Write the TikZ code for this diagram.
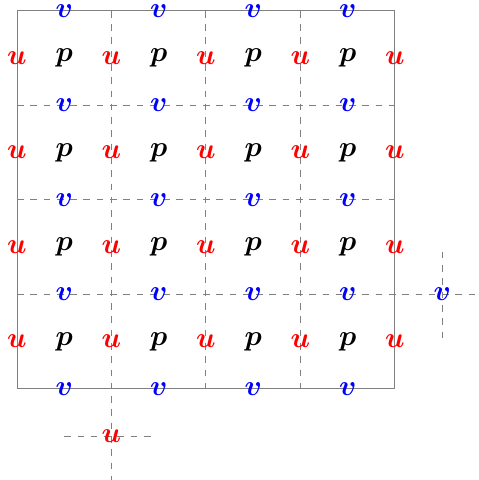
\documentclass[tikz,border=0pt]{standalone}
\usepackage{bm}
\usetikzlibrary{positioning}
\tikzset{
   pres/.style={text=black, font=\LARGE, inner sep=0pt},
   uvel/.style={text=red, font=\LARGE, inner sep=0pt},
   vvel/.style={text=blue, font=\LARGE, inner sep=0pt},
   cell line/.style={draw=gray, line width=0.6pt, dash pattern=on 4pt off 4pt},
   border/.style={draw=gray, line width=0.6pt}
}

\begin{document}
\begin{tikzpicture}

  \useasboundingbox (-0.36,-1.93) rectangle (9.76,8.23);

  % cell boundaries
  \draw[border] (0,0) rectangle (8,8);
  \draw[cell line] (2,8) -- (2,-2.1);
  \draw[cell line] (4,8) -- (4,0);
  \draw[cell line] (6,8) -- (6,0);
  \draw[cell line] (0,6) -- (8,6);
  \draw[cell line] (0,4) -- (8,4);
  \draw[cell line] (0,2) -- (10.1,2);

  \draw[cell line] (1,-1) -- (2.9,-1);
  \draw[cell line] (9,2.9) -- (9,1.05);

  %%%%%%%%%%%

  \node[pres] at (1,7) (p11) {$\bm{p}$};
  \node[pres] at (3,7) (p21) {$\bm{p}$};
  \node[pres] at (5,7) (p31) {$\bm{p}$};
  \node[pres] at (7,7) (p41) {$\bm{p}$};
  \node[pres] at (1,5) (p12) {$\bm{p}$};
  \node[pres] at (3,5) (p22) {$\bm{p}$};
  \node[pres] at (5,5) (p32) {$\bm{p}$};
  \node[pres] at (7,5) (p42) {$\bm{p}$};
  \node[pres] at (1,3) (p13) {$\bm{p}$};
  \node[pres] at (3,3) (p23) {$\bm{p}$};
  \node[pres] at (5,3) (p33) {$\bm{p}$};
  \node[pres] at (7,3) (p43) {$\bm{p}$};
  \node[pres] at (1,1) (p14) {$\bm{p}$};
  \node[pres] at (3,1) (p24) {$\bm{p}$};
  \node[pres] at (5,1) (p34) {$\bm{p}$};
  \node[pres] at (7,1) (p44) {$\bm{p}$};

  %%%%%%%%%%%

  \node[uvel] at (0,7) (u01) {$\bm{u}$};
  \node[uvel] at (2,7) (u11) {$\bm{u}$};
  \node[uvel] at (4,7) (u21) {$\bm{u}$};
  \node[uvel] at (6,7) (u31) {$\bm{u}$};
  \node[uvel] at (8,7) (u41) {$\bm{u}$};
  \node[uvel] at (0,5) (u02) {$\bm{u}$};
  \node[uvel] at (2,5) (u12) {$\bm{u}$};
  \node[uvel] at (4,5) (u22) {$\bm{u}$};
  \node[uvel] at (6,5) (u32) {$\bm{u}$};
  \node[uvel] at (8,5) (u42) {$\bm{u}$};
  \node[uvel] at (0,3) (u03) {$\bm{u}$};
  \node[uvel] at (2,3) (u13) {$\bm{u}$};
  \node[uvel] at (4,3) (u23) {$\bm{u}$};
  \node[uvel] at (6,3) (u33) {$\bm{u}$};
  \node[uvel] at (8,3) (u43) {$\bm{u}$};
  \node[uvel] at (0,1) (u04) {$\bm{u}$};
  \node[uvel] at (2,1) (u14) {$\bm{u}$};
  \node[uvel] at (4,1) (u24) {$\bm{u}$};
  \node[uvel] at (6,1) (u34) {$\bm{u}$};
  \node[uvel] at (8,1) (u44) {$\bm{u}$};
  \node[uvel] at (2,-1) (u ghost) {$\bm{u}$};

  %%%%%%%%%%%

  \node[vvel] at (1,8) (v10) {$\bm{v}$};
  \node[vvel] at (3,8) (v20) {$\bm{v}$};
  \node[vvel] at (5,8) (v30) {$\bm{v}$};
  \node[vvel] at (7,8) (v40) {$\bm{v}$};
  \node[vvel] at (1,6) (v11) {$\bm{v}$};
  \node[vvel] at (3,6) (v21) {$\bm{v}$};
  \node[vvel] at (5,6) (v31) {$\bm{v}$};
  \node[vvel] at (7,6) (v41) {$\bm{v}$};
  \node[vvel] at (1,4) (v12) {$\bm{v}$};
  \node[vvel] at (3,4) (v22) {$\bm{v}$};
  \node[vvel] at (5,4) (v32) {$\bm{v}$};
  \node[vvel] at (7,4) (v42) {$\bm{v}$};
  \node[vvel] at (1,2) (v13) {$\bm{v}$};
  \node[vvel] at (3,2) (v23) {$\bm{v}$};
  \node[vvel] at (5,2) (v33) {$\bm{v}$};
  \node[vvel] at (7,2) (v43) {$\bm{v}$};
  \node[vvel] at (1,0) (v14) {$\bm{v}$};
  \node[vvel] at (3,0) (v24) {$\bm{v}$};
  \node[vvel] at (5,0) (v34) {$\bm{v}$};
  \node[vvel] at (7,0) (v44) {$\bm{v}$};
  \node[vvel] at (9,2) (v ghost) {$\bm{v}$};

\end{tikzpicture}
\end{document}
